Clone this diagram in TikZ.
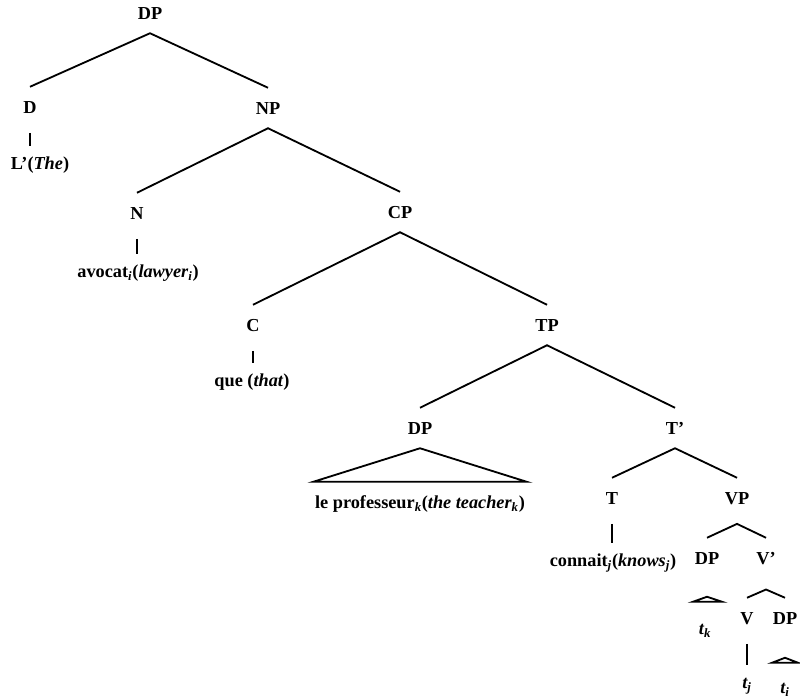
\documentclass[tikz,border=0pt]{standalone}
\usepackage{fontspec}
\setmainfont{Liberation Serif}
\tikzset{
  cat/.style={font=\fontsize{13}{15}\selectfont\bfseries, inner xsep=1pt, inner ysep=9.9pt, text height=8.6pt, text depth=0pt},
  branch/.style={line width=1.3pt},
  bar/.style={line width=1.3pt, shorten <=4pt, shorten >=-2pt},
}
\begin{document}
\begin{tikzpicture}[x=0.025cm,y=-0.025cm]
\useasboundingbox (0,0) rectangle (800,699);
% arbre : L'avocat que le professeur connait
\node[cat] (dp1) at (150,13) {DP};
\node[cat] (d) at (30,107) {D};
\node[cat] (the) at (40,163) {L'(\textit{The})};
\node[cat] (np) at (268,108) {NP};
\node[cat] (n) at (137,213) {N};
\node[cat] (lawyer) at (138,271) {avocat\textsubscript{\textit{i}}(\textit{lawyer\textsubscript{i}})};
\node[cat] (cp) at (400,212) {CP};
\node[cat] (c) at (253,325) {C};
\node[cat] (that) at (252,380) {que (\textit{that})};
\node[cat] (tp) at (547,325) {TP};
\node[cat] (dp2) at (420,428) {DP};
\node[cat] (prof) at (420,502) {le professeur\textsubscript{\textit{k}}(\textit{the teacher\textsubscript{k}})};
\node[cat] (tbar) at (675,428) {T'};
\node[cat] (t) at (612,498) {T};
\node[cat] (knows) at (613,560) {connait\textsubscript{\textit{j}}(\textit{knows\textsubscript{j}})};
\node[cat] (vp) at (737,498) {VP};
\node[cat] (dp3) at (707,558) {DP};
\node[cat] (tk) at (705,628) {\textit{t\textsubscript{k}}};
\node[cat] (vbar) at (766,558) {V'};
\node[cat] (v) at (747,618) {V};
\node[cat] (tj) at (747,682) {\textit{t\textsubscript{j}}};
\node[cat] (dp4) at (785,618) {DP};
\node[cat] (ti) at (785,687) {\textit{t\textsubscript{i}}};
% branches
\draw[branch] (d.north) -- (dp1.south) -- (np.north);
\draw[branch] (n.north) -- (np.south) -- (cp.north);
\draw[branch] (c.north) -- (cp.south) -- (tp.north);
\draw[branch] (dp2.north) -- (tp.south) -- (tbar.north);
\draw[branch] (t.north) -- (tbar.south) -- (vp.north);
\draw[branch] (dp3.north) -- ([yshift=-4pt]vp.south) -- (vbar.north);
\draw[branch] (v.north) -- ([yshift=-8pt]vbar.south) -- (dp4.north);
\draw[bar] (d.south) -- (d.south |- the.north);
\draw[bar] (n.south) -- (n.south |- lawyer.north);
\draw[bar] (c.south) -- (c.south |- that.north);
\draw[bar] (t.south) -- (t.south |- knows.north);
\draw[bar] (v.south) -- (v.south |- tj.north);
% triangles
\draw[branch] (dp2.south) -- (prof.north west) -- (prof.north east) -- cycle;
\draw[branch] (tk.north) ++(-12,-6) -- ++(14,-5) -- ++(15,5) -- cycle;
\draw[branch] (ti.north) ++(-13,-4) -- ++(13,-5) -- ++(13,5) -- cycle;
\end{tikzpicture}
\end{document}
